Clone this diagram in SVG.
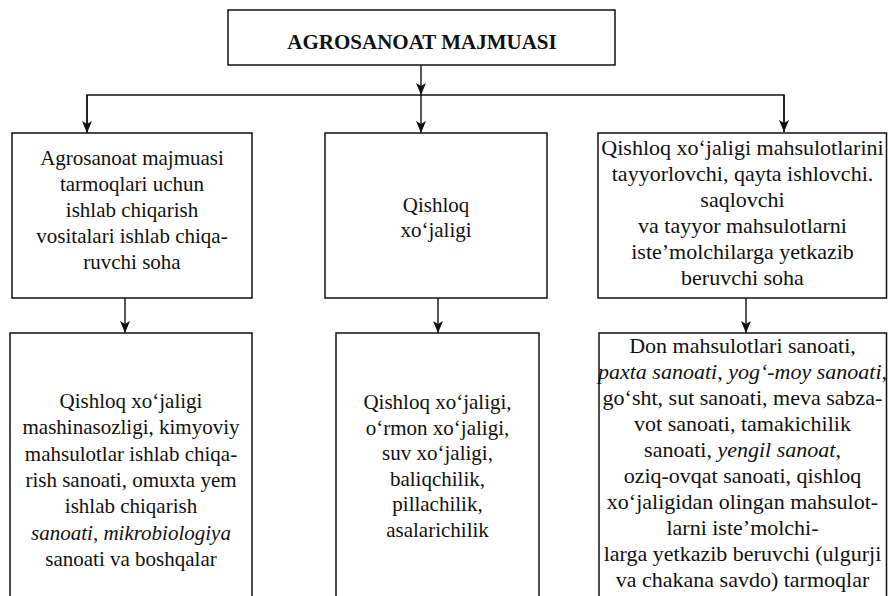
<svg xmlns="http://www.w3.org/2000/svg" width="888" height="596" viewBox="0 0 888 596">
<style>
.box{fill:#fff;stroke:#111;stroke-width:1.5}
text{font-family:"Liberation Serif","Times New Roman",serif;font-size:21px;fill:#111;text-anchor:middle}
.big text{font-size:22px}
.title{font-weight:bold}
.i{font-style:italic}
.c{fill:none;stroke:#111;stroke-width:1.4}
</style>
<defs>
<marker id="ah" viewBox="0 0 12 10" refX="12" refY="5" markerWidth="12" markerHeight="10" markerUnits="userSpaceOnUse" orient="auto">
<path d="M0,0 L12,5 L0,10 L3,5 z" fill="#111"/>
</marker>
</defs>
<rect width="888" height="596" fill="#fff"/>
<g id="connectors">
<line class="c" x1="421" y1="65" x2="421" y2="95" marker-end="url(#ah)"/>
<polyline class="c" points="87,133 87,95 784,95 784,132"/>
<line class="c" x1="87" y1="95" x2="87" y2="133" marker-end="url(#ah)"/>
<line class="c" x1="421" y1="95" x2="421" y2="133" marker-end="url(#ah)"/>
<line class="c" x1="784" y1="95" x2="784" y2="132" marker-end="url(#ah)"/>
<line class="c" x1="125" y1="298" x2="125" y2="333" marker-end="url(#ah)"/>
<line class="c" x1="438" y1="298" x2="438" y2="333" marker-end="url(#ah)"/>
<line class="c" x1="746" y1="298" x2="746" y2="333" marker-end="url(#ah)"/>
</g>
<g id="top">
<rect class="box" x="228" y="10" width="387" height="55"/>
<text class="title" x="422" y="49">AGROSANOAT MAJMUASI</text>
</g>
<g id="n1">
<rect class="box" x="12" y="133" width="240" height="165"/>
<text x="132" y="165">Agrosanoat majmuasi</text>
<text x="132" y="191">tarmoqlari uchun</text>
<text x="132" y="217">ishlab chiqarish</text>
<text x="132" y="243">vositalari ishlab chiqa-</text>
<text x="132" y="269">ruvchi soha</text>
</g>
<g id="n2">
<rect class="box" x="325" y="133" width="222" height="165"/>
<text x="436" y="212">Qishloq</text>
<text x="436" y="237">xo‘jaligi</text>
</g>
<g id="n3" class="big">
<rect class="box" x="598" y="133" width="288.5" height="165"/>
<text x="742.5" y="155">Qishloq xo‘jaligi mahsulotlarini</text>
<text x="742.5" y="181">tayyorlovchi, qayta ishlovchi.</text>
<text x="742.5" y="207">saqlovchi</text>
<text x="742.5" y="233">va tayyor mahsulotlarni</text>
<text x="742.5" y="259">iste’molchilarga yetkazib</text>
<text x="742.5" y="285">beruvchi soha</text>
</g>
<g id="n4">
<rect class="box" x="10" y="333" width="242" height="280"/>
<text x="131" y="408">Qishloq xo‘jaligi</text>
<text x="131" y="434">mashinasozligi, kimyoviy</text>
<text x="131" y="461">mahsulotlar ishlab chiqa-</text>
<text x="131" y="487">rish sanoati, omuxta yem</text>
<text x="131" y="513">ishlab chiqarish</text>
<text class="i" x="131" y="540">sanoati, mikrobiologiya</text>
<text x="131" y="566">sanoati va boshqalar</text>
</g>
<g id="n5">
<rect class="box" x="336" y="333" width="203" height="280"/>
<text x="437.5" y="409">Qishloq xo‘jaligi,</text>
<text x="437.5" y="435">o‘rmon xo‘jaligi,</text>
<text x="437.5" y="460">suv xo‘jaligi,</text>
<text x="437.5" y="486">baliqchilik,</text>
<text x="437.5" y="511">pillachilik,</text>
<text x="437.5" y="537">asalarichilik</text>
</g>
<g id="n6" class="big">
<rect class="box" x="599" y="333" width="287.5" height="280"/>
<text x="742.5" y="353">Don mahsulotlari sanoati,</text>
<text class="i" x="742.5" y="379">paxta sanoati, yog‘-moy sanoati,</text>
<text x="742.5" y="405">go‘sht, sut sanoati, meva sabza-</text>
<text x="742.5" y="431">vot sanoati, tamakichilik</text>
<text x="742.5" y="457">sanoati, <tspan class="i">yengil sanoat</tspan>,</text>
<text x="742.5" y="483">oziq-ovqat sanoati, qishloq</text>
<text x="742.5" y="509">xo‘jaligidan olingan mahsulot-</text>
<text x="742.5" y="535">larni iste’molchi-</text>
<text x="742.5" y="561">larga yetkazib beruvchi (ulgurji</text>
<text x="742.5" y="587">va chakana savdo) tarmoqlar</text>
</g>
</svg>
